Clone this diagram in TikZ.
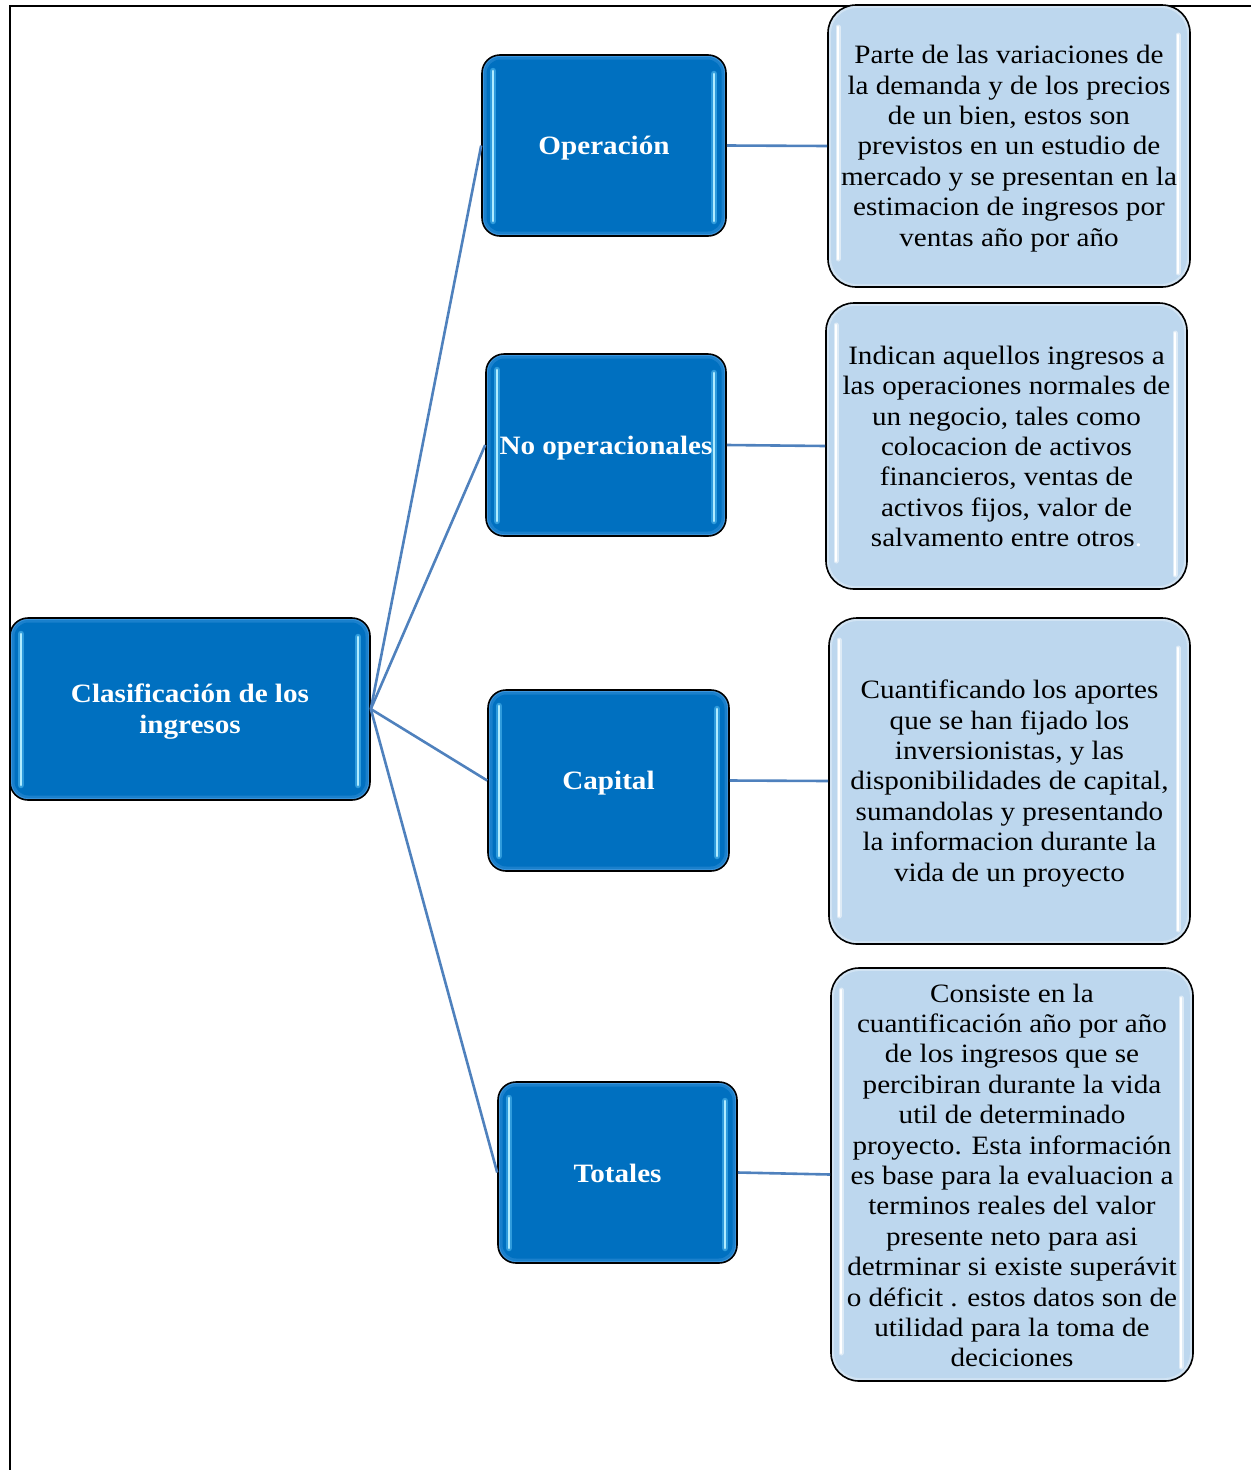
\documentclass[tikz,border=0pt]{standalone}
\usepackage{fontspec}
\setmainfont{Liberation Serif}[FakeStretch=1.1]
\definecolor{blueMain}{HTML}{0070C0}
\definecolor{blueEdge}{HTML}{3D95DC}
\definecolor{blueMid}{HTML}{1A80CC}
\definecolor{lightBlue}{HTML}{BDD7EE}
\definecolor{lineBlue}{HTML}{4F81BD}
\definecolor{hlCyan}{HTML}{B0ECFF}
\definecolor{hlGlow}{HTML}{4FB8F0}
\tikzset{
  bluebox/.style={draw=black, line width=1.6pt, rounded corners=18pt, fill=blueEdge, inner sep=0pt,
    path picture={
      \fill[blueMid, rounded corners=16pt] ([shift={(2pt,2pt)}]path picture bounding box.south west) rectangle ([shift={(-2pt,-2pt)}]path picture bounding box.north east);
      \fill[blueMain, rounded corners=14pt] ([shift={(4.5pt,4.5pt)}]path picture bounding box.south west) rectangle ([shift={(-4.5pt,-4.5pt)}]path picture bounding box.north east);
      \draw[hlGlow, line width=6.5pt, line cap=round, opacity=0.6] ([shift={(11pt,15pt)}]path picture bounding box.south west) -- ([shift={(11pt,-16pt)}]path picture bounding box.north west);
      \draw[hlCyan, line width=2.8pt, line cap=round] ([shift={(11pt,15pt)}]path picture bounding box.south west) -- ([shift={(11pt,-16pt)}]path picture bounding box.north west);
      \draw[hlGlow, line width=6.5pt, line cap=round, opacity=0.6] ([shift={(-12pt,15pt)}]path picture bounding box.south east) -- ([shift={(-12pt,-19pt)}]path picture bounding box.north east);
      \draw[hlCyan, line width=2.8pt, line cap=round] ([shift={(-12pt,15pt)}]path picture bounding box.south east) -- ([shift={(-12pt,-19pt)}]path picture bounding box.north east);
    }},
  bluetext/.style={text=white, font=\bfseries\fontsize{26.5}{31}\selectfont, align=center, inner sep=0pt},
  lightbox/.style={draw=black, line width=1.6pt, rounded corners=28pt, fill=white!30!lightBlue, inner sep=0pt,
    path picture={
      \fill[lightBlue, rounded corners=26pt] ([shift={(3pt,3pt)}]path picture bounding box.south west) rectangle ([shift={(-3pt,-3pt)}]path picture bounding box.north east);
      \draw[white, line width=5pt, line cap=round, opacity=0.5] ([shift={(10pt,28pt)}]path picture bounding box.south west) -- ([shift={(10pt,-22pt)}]path picture bounding box.north west);
      \draw[white, line width=2.2pt, line cap=round] ([shift={(10pt,28pt)}]path picture bounding box.south west) -- ([shift={(10pt,-22pt)}]path picture bounding box.north west);
      \draw[white, line width=5pt, line cap=round, opacity=0.5] ([shift={(-12pt,14pt)}]path picture bounding box.south east) -- ([shift={(-12pt,-30pt)}]path picture bounding box.north east);
      \draw[white, line width=2.2pt, line cap=round] ([shift={(-12pt,14pt)}]path picture bounding box.south east) -- ([shift={(-12pt,-30pt)}]path picture bounding box.north east);
    }},
  lighttext/.style={text=black, font=\fontsize{26.5}{30.4}\selectfont, align=center, inner sep=0pt},
  link/.style={draw=lineBlue, line width=2.6pt}
}
\begin{document}
\begin{tikzpicture}[x=1pt, y=-1pt]
\useasboundingbox (0,0) rectangle (1251,1470);
% frame
\draw[line width=2pt] (10,1470) -- (10,6) -- (1251,6);

% blue boxes
\node[bluebox, minimum width=360pt, minimum height=182pt] (root) at (190,709) {};
\node[bluebox, minimum width=244pt, minimum height=181pt] (op) at (604,145.5) {};
\node[bluebox, minimum width=240pt, minimum height=182pt] (noop) at (606,445) {};
\node[bluebox, minimum width=241pt, minimum height=181pt] (cap) at (608.5,780.5) {};
\node[bluebox, minimum width=239pt, minimum height=181pt] (tot) at (617.5,1172.5) {};
\node[bluetext] (root-t) at ([yshift=-2.5pt]root.center) {Clasificación de los\\ingresos};
\node[bluetext] (op-t) at ([yshift=-3pt]op.center) {Operación};
\node[bluetext] (noop-t) at ([yshift=-3pt]noop.center) {No operacionales};
\node[bluetext] (cap-t) at ([yshift=-3pt]cap.center) {Capital};
\node[bluetext] (tot-t) at ([yshift=-1pt]tot.center) {Totales};

% description boxes
\node[lightbox, minimum width=362pt, minimum height=282pt] (d1) at (1009,146) {};
\node[lightbox, minimum width=361pt, minimum height=286pt] (d2) at (1006.5,446) {};
\node[lightbox, minimum width=361pt, minimum height=326pt] (d3) at (1009.5,781) {};
\node[lightbox, minimum width=362pt, minimum height=413pt] (d4) at (1012,1174.5) {};
\node[lighttext] (d1-t) at ([yshift=-2.5pt]d1.center) {Parte de las variaciones de\\la demanda y de los precios\\de un bien, estos son\\previstos en un estudio de\\mercado y se presentan en la\\estimacion de ingresos por\\ventas año por año};
\node[lighttext] (d2-t) at ([yshift=-0.5pt]d2.center) {Indican aquellos ingresos a\\las operaciones normales de\\un negocio, tales como\\colocacion de activos\\financieros, ventas de\\activos fijos, valor de\\salvamento entre otros{\color{white}.}};
\node[lighttext] (d3-t) at ([yshift=-2.5pt]d3.center) {Cuantificando los aportes\\que se han fijado los\\inversionistas, y las\\disponibilidades de capital,\\sumandolas y presentando\\la informacion durante la\\vida de un proyecto};
\node[lighttext] (d4-t) at ([yshift=-1pt]d4.center) {Consiste en la\\cuantificación año por año\\de los ingresos que se\\percibiran durante la vida\\util de determinado\\proyecto. Esta información\\es base para la evaluacion a\\terminos reales del valor\\presente neto para asi\\detrminar si existe superávit\\o déficit . estos datos son de\\utilidad para la toma de\\deciciones};

% connectors
\draw[link] (root.east) -- (op.west);
\draw[link] (root.east) -- (noop.west);
\draw[link] (root.east) -- (cap.west);
\draw[link] (root.east) -- (tot.west);
\draw[link] (op.east) -- (d1.west);
\draw[link] (noop.east) -- (d2.west);
\draw[link] (cap.east) -- (d3.west);
\draw[link] (tot.east) -- (d4.west);
\end{tikzpicture}
\end{document}
